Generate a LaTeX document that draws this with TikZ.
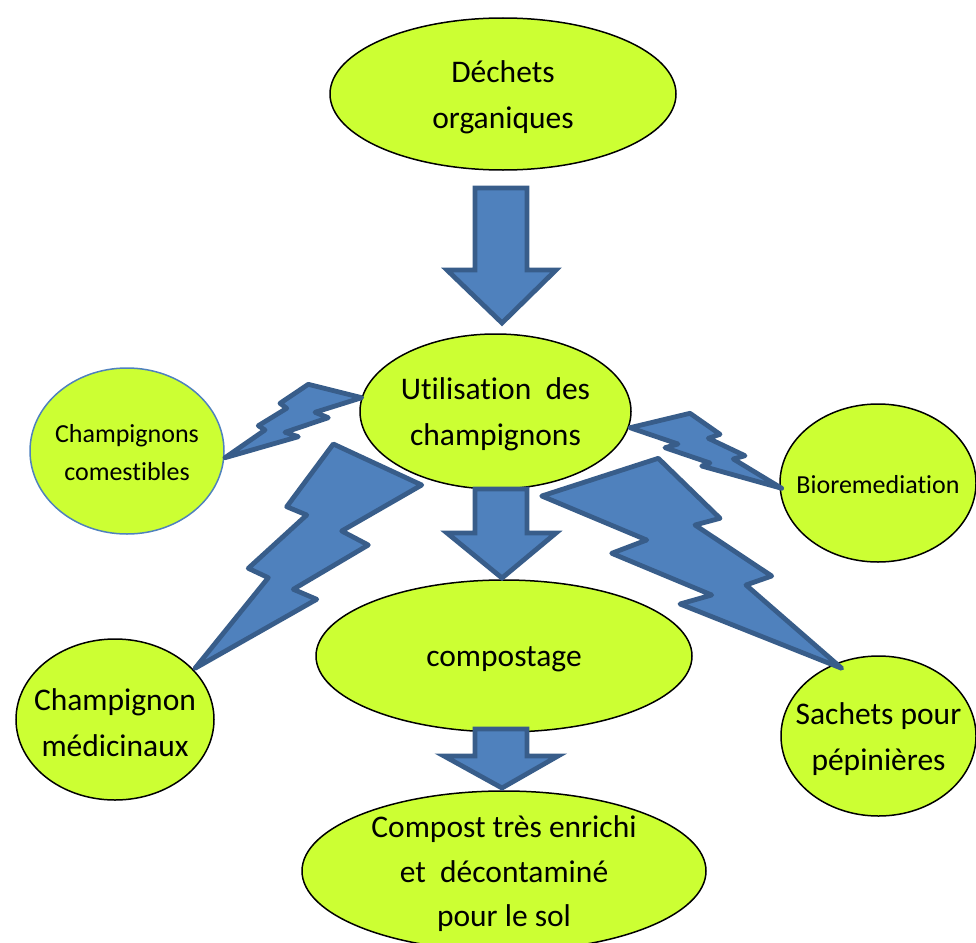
\documentclass[tikz,border=0pt]{standalone}
\usepackage{fontspec}
\setmainfont[Ligatures=NoCommon]{Carlito}
\usetikzlibrary{shapes.geometric}
\definecolor{limefill}{RGB}{204,255,51}
\definecolor{boltfill}{RGB}{79,129,189}
\definecolor{boltline}{RGB}{56,93,138}
\begin{document}
\begin{tikzpicture}[x=1pt,y=-1pt,
  bubble/.style={ellipse, draw=black, line width=1.5pt, fill=limefill, inner sep=0pt},
  bigtext/.style={align=center, inner sep=0pt, yshift=-3pt, font=\fontsize{31.5}{46}\selectfont},
  smalltext/.style={align=center, inner sep=0pt, yshift=-2pt, font=\fontsize{26}{38}\selectfont},
  bolt/.style={fill=boltfill, draw=boltline, line width=4.8pt, line join=round},
  blockarrow/.style={fill=boltfill, draw=boltline, line width=4.8pt, line join=miter},
]
\useasboundingbox (0,0) rectangle (976,942);
\clip (0,0) rectangle (976,942);

% bubbles
\node[bubble, minimum width=346pt, minimum height=152pt] (dechets) at (503,94) {};
\node[bubble, minimum width=271pt, minimum height=155pt] (util) at (495.5,411.5) {};
\node[bubble, draw=boltfill, minimum width=194pt, minimum height=166pt] (comest) at (127,451) {};
\node[bubble, minimum width=196pt, minimum height=158pt] (biorem) at (878,483) {};
\node[bubble, minimum width=376pt, minimum height=152pt] (compostage) at (504,656) {};
\node[bubble, minimum width=198pt, minimum height=161pt] (medic) at (115,719.5) {};
\node[bubble, minimum width=195pt, minimum height=160pt] (sachets) at (878.5,736) {};
\node[bubble, minimum width=404pt, minimum height=160pt] (compost) at (504,871) {};

% bubble texts
\node[bigtext] (dechetsT) at (dechets) {Déchets\\organiques};
\node[bigtext] (utilT) at (util) {Utilisation~~des\\champignons};
\node[smalltext] (comestT) at (comest) {Champignons\\comestibles};
\node[smalltext] (bioremT) at (biorem) {Bioremediation};
\node[bigtext] (compostageT) at (compostage) {compostage};
\node[bigtext] (medicT) at (medic) {Champignon\\médicinaux};
\node[bigtext] (sachetsT) at (sachets) {Sachets pour\\pépinières};
\node[bigtext, font=\fontsize{31.5}{44.5}\selectfont] (compostT) at (compost) {Compost très enrichi\\et~~décontaminé\\pour le sol};

% block arrows between the stages
\draw[blockarrow] (475,188) -- (527,188) -- (527,270) -- (556,270) -- (502,323)
  -- (447,270) -- (475,270) -- cycle;
\draw[blockarrow] (475,489) -- (527,489) -- (527,533) -- (556,533) -- (502,578)
  -- (447,533) -- (475,533) -- cycle;
\draw[blockarrow] (475,729) -- (527,729) -- (527,756) -- (558,756) -- (502,788)
  -- (444,756) -- (475,756) -- cycle;

% lightning bolts towards the uses
\draw[bolt] (308.3,384.3) -- (361.7,397.7) -- (315,412.3) -- (328.3,417.7)
  -- (285,432.3) -- (298.3,436.7) -- (225,457.7) -- (265,430) -- (258.3,425.7)
  -- (286.7,408.3) -- (280,403.3) -- cycle;
\draw[bolt] (333.3,444) -- (421.7,485) -- (341.7,531) -- (368.3,545)
  -- (293.3,589.3) -- (316.7,599.3) -- (195,668.3) -- (268.3,577.7)
  -- (248.3,568.3) -- (306.7,515) -- (286.7,506.7) -- cycle;
\draw[bolt] (630,427.7) -- (690,413.3) -- (720,434.3) -- (708.3,438.3)
  -- (745,455.7) -- (733.3,459) -- (781.7,488.3) -- (701.7,466) -- (710,463)
  -- (665,447.7) -- (678,444) -- cycle;
\draw[bolt] (541.7,496) -- (658.3,458.3) -- (720,518.3) -- (695,525)
  -- (771.7,576) -- (746,585) -- (841.7,668.3) -- (680,604) -- (711.7,595)
  -- (611.7,553.3) -- (646.7,540) -- cycle;
\end{tikzpicture}
\end{document}
